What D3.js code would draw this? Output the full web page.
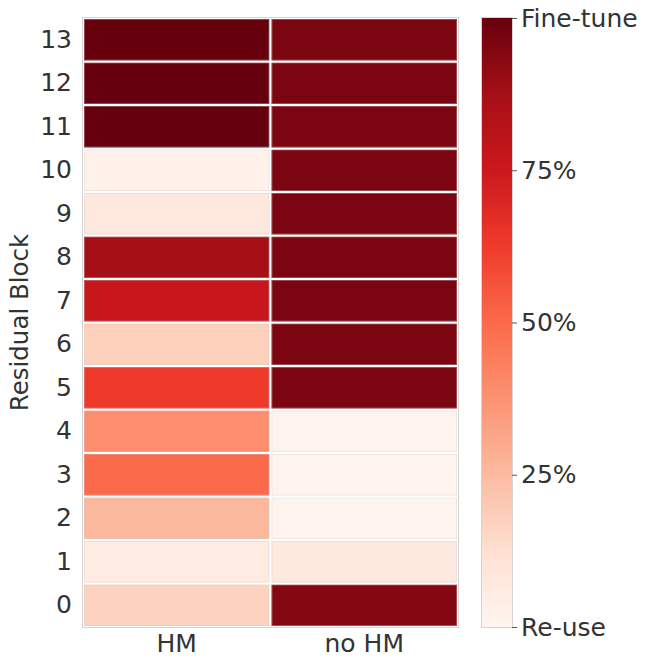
<!DOCTYPE html>
<html>
<head>
<meta charset="utf-8">
<style>
body { margin: 0; background: #fff; }
svg text { font-family: "DejaVu Sans", sans-serif; fill: #333; }
.frame { fill: none; stroke: #d4d4d4; stroke-width: 1; }
</style>
</head>
<body>
<svg width="653" height="658"></svg>
<script src="https://cdn.jsdelivr.net/npm/d3@7/dist/d3.min.js"></script>
<script>

// rows 0..13 (residual blocks), two setups
var blocks = [0,1,2,3,4,5,6,7,8,9,10,11,12,13];
var setups = ["HM", "no HM"];
// fraction fine-tuned per block
var hmValues   = [0.17, 0.06, 0.26, 0.50, 0.39, 0.63, 0.18, 0.76, 0.875, 0.08, 0.02, 1.0, 1.0, 1.0];
var noHmValues = [0.94, 0.07, 0.01, 0.01, 0.01, 0.96, 0.96, 0.96, 0.96, 0.96, 0.96, 0.96, 0.96, 0.96];
var cbTicks = [0, 0.25, 0.5, 0.75, 1];
var cbLabels = ["Re-use", "25%", "50%", "75%", "Fine-tune"];

// matplotlib "Reds" (linear over the 9 brewer stops)
var redsStops = ["#fff5f0","#fee0d2","#fcbba1","#fc9272","#fb6a4a","#ef3b2c","#cb181d","#a50f15","#67000d"];
var color = d3.scaleLinear()
  .domain(d3.range(9).map(function(i) { return i / 8; }))
  .range(redsStops)
  .interpolate(d3.interpolateRgb)
  .clamp(true);

var cells = [];
blocks.forEach(function(b, i) {
  cells.push({block: b, setup: setups[0], v: hmValues[i]});
  cells.push({block: b, setup: setups[1], v: noHmValues[i]});
});

var svg = d3.select("svg");
var m = {left: 83, right: 458, top: 18, bottom: 627};

var x = d3.scaleBand().domain(setups).range([m.left, m.right]);
var y = d3.scaleBand().domain(blocks.slice().reverse()).range([m.top, m.bottom]);

var g = svg.append("g");

g.selectAll("rect.cell")
  .data(cells)
  .enter().append("rect")
  .attr("class", "cell")
  .attr("x", function(d) { return x(d.setup); })
  .attr("y", function(d) { return y(d.block); })
  .attr("width", x.bandwidth())
  .attr("height", y.bandwidth())
  .attr("fill", function(d) { return color(d.v); })
  .attr("stroke", "#fff")
  .attr("stroke-width", 2);

// thin light edge inside each cell, like the original
g.selectAll("rect.edge")
  .data(cells)
  .enter().append("rect")
  .attr("class", "edge")
  .attr("x", function(d) { return x(d.setup) + 1.5; })
  .attr("y", function(d) { return y(d.block) + 1.5; })
  .attr("width", x.bandwidth() - 3)
  .attr("height", y.bandwidth() - 3)
  .attr("fill", "none")
  .attr("stroke", "#ccc")
  .attr("stroke-opacity", 0.35)
  .attr("stroke-width", 1);

g.append("rect").attr("class", "frame")
  .attr("x", m.left - 0.5).attr("y", m.top - 0.5)
  .attr("width", m.right - m.left + 1).attr("height", m.bottom - m.top + 1);

// y axis labels
var yAxis = d3.axisLeft(y).tickSize(0).tickPadding(11);
var gy = svg.append("g").attr("transform", "translate(" + m.left + ",0)").call(yAxis);
gy.select(".domain").remove();
gy.selectAll("text").style("font-size", "25px").attr("fill", "#333");

var xAxis = d3.axisBottom(x).tickSize(0).tickPadding(7);
var gx = svg.append("g").attr("transform", "translate(0," + m.bottom + ")").call(xAxis);
gx.select(".domain").remove();
gx.selectAll("text").style("font-size", "25px").attr("fill", "#333");

svg.append("text")
  .attr("transform", "translate(28," + ((m.top + m.bottom) / 2) + ") rotate(-90)")
  .attr("text-anchor", "middle")
  .style("font-size", "24.5px")
  .text("Residual Block");

// colorbar
var cbLeft = 482, cbW = 30;
var cy = d3.scaleLinear().domain([0, 1]).range([m.bottom, m.top]);
var defs = svg.append("defs");
var grad = defs.append("linearGradient")
  .attr("id", "cbGrad")
  .attr("x1", "0%").attr("x2", "0%")
  .attr("y1", "100%").attr("y2", "0%");
redsStops.forEach(function(c, i) {
  grad.append("stop").attr("offset", (i / 8 * 100) + "%").attr("stop-color", c);
});
svg.append("rect")
  .attr("x", cbLeft).attr("y", m.top)
  .attr("width", cbW).attr("height", m.bottom - m.top)
  .attr("fill", "url(#cbGrad)");
svg.append("rect").attr("class", "frame")
  .attr("x", cbLeft - 0.5).attr("y", m.top - 0.5)
  .attr("width", cbW + 1).attr("height", m.bottom - m.top + 1);

var cbAxis = d3.axisRight(cy)
  .tickValues(cbTicks)
  .tickFormat(function(d, i) { return cbLabels[i]; })
  .tickSize(5).tickPadding(4);
var gcb = svg.append("g").attr("transform", "translate(" + (cbLeft + cbW) + ",0)").call(cbAxis);
gcb.select(".domain").remove();
gcb.selectAll("line").attr("stroke", "#555");
gcb.selectAll("text").style("font-size", "25px").attr("fill", "#333");

</script>
</body>
</html>
